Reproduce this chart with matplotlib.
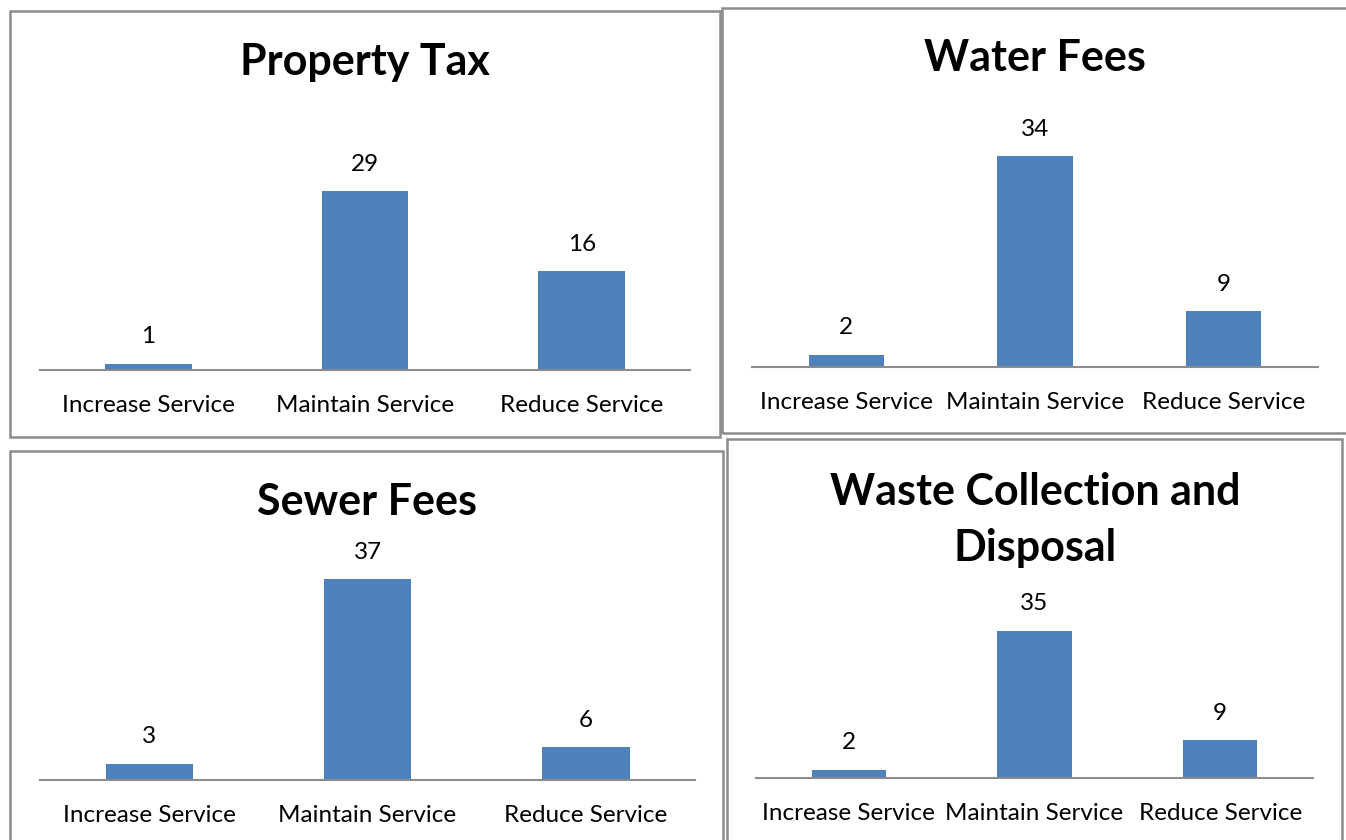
import matplotlib
matplotlib.use("Agg")
import matplotlib.pyplot as plt
from matplotlib.patches import Rectangle

W, H = 1346, 840
plt.rcParams['font.family'] = ['Lato', 'DejaVu Sans']

categories = ["Increase Service", "Maintain Service", "Reduce Service"]
titles = ["Property Tax", "Water Fees", "Sewer Fees", "Waste Collection and\nDisposal"]
property_tax = [1, 29, 16]
water_fees = [2, 34, 9]
sewer_fees = [3, 37, 6]
waste_collection = [2, 35, 9]
series = [property_tax, water_fees, sewer_fees, waste_collection]

# layout (pixels): panel border box, plot area (left, right, axis_y, px_per_unit), title center
borders = [(10, 11, 720, 437), (722, 8, 1352, 433), (10, 451, 723, 850), (727, 439, 1342, 850)]
plots = [(40, 690, 370, 6.17), (752, 1318, 367, 6.2), (40, 695, 780, 5.43), (756, 1313, 778, 4.2)]
title_pos = [(365, 62), (1035, 58), (367, 502), (1035, 520)]
ymax = 40

fig = plt.figure(figsize=(W / 100, H / 100), dpi=100)

def fx(x):
    return x / W

def fy(y):
    return 1 - y / H

for (x0, y0, x1, y1) in borders:
    fig.add_artist(Rectangle((fx(x0), fy(y1)), fx(x1) - fx(x0), fy(y0) - fy(y1),
                             transform=fig.transFigure, fill=False,
                             edgecolor='#8c8c8c', linewidth=1.8))

for vals, title, (l, r, ay, ppu), (tx, ty) in zip(series, titles, plots, title_pos):
    h = ymax * ppu
    ax = fig.add_axes([fx(l), fy(ay), fx(r) - fx(l), h / H])
    ax.bar(range(len(categories)), vals, width=0.4, color='#4F81BD')
    ax.set_xlim(-0.5, len(categories) - 0.5)
    ax.set_ylim(0, ymax)
    ax.set_yticks([])
    ax.set_xticks(range(len(categories)))
    ax.set_xticklabels(categories, fontsize=17.5, color='black')
    ax.tick_params(axis='x', length=0, pad=18)
    for s in ['top', 'left', 'right']:
        ax.spines[s].set_visible(False)
    ax.spines['bottom'].set_color('#8c8c8c')
    ax.spines['bottom'].set_linewidth(1.5)
    ax.patch.set_alpha(0)
    for i, v in enumerate(vals):
        ax.annotate(str(v), (i, v), xytext=(0, 27), textcoords='offset pixels',
                    ha='center', va='center', fontsize=17.5, color='black')
    fig.text(fx(tx), fy(ty), title, ha='center', va='center', fontsize=31,
             fontweight='bold', color='black', linespacing=1.5)

fig.savefig('out.png', dpi=100, facecolor='white')
